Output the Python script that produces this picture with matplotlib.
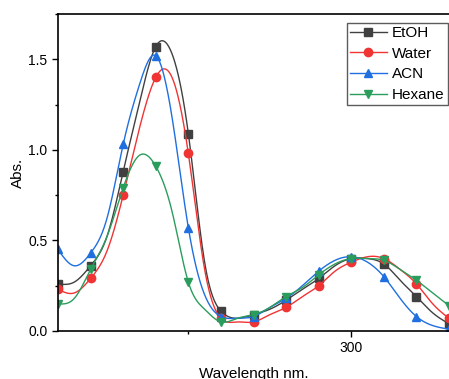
import numpy as np
import matplotlib
matplotlib.use('Agg')
import matplotlib.pyplot as plt
from matplotlib.ticker import MultipleLocator, FormatStrFormatter

plt.rcParams['font.family'] = ['Liberation Sans', 'DejaVu Sans']

# every 5 nm, symbols shown every 10 nm
wavelength = [210, 215, 220, 225, 230, 235, 240, 245, 250, 255, 260, 265, 270,
              275, 280, 285, 290, 295, 300, 305, 310, 315, 320, 325, 330]
etoh = [0.26, 0.27, 0.36, 0.52, 0.88, 1.26, 1.57, 1.53, 1.09, 0.38, 0.11, 0.07, 0.09,
        0.12, 0.17, 0.23, 0.29, 0.36, 0.40, 0.40, 0.37, 0.28, 0.19, 0.10, 0.04]
water = [0.23, 0.21, 0.29, 0.44, 0.75, 1.12, 1.40, 1.40, 0.98, 0.34, 0.07, 0.05, 0.05,
         0.09, 0.13, 0.19, 0.25, 0.33, 0.38, 0.41, 0.40, 0.34, 0.26, 0.15, 0.07]
acn = [0.45, 0.36, 0.43, 0.62, 1.03, 1.36, 1.52, 1.18, 0.57, 0.20, 0.08, 0.07, 0.08,
       0.13, 0.18, 0.25, 0.33, 0.39, 0.41, 0.38, 0.30, 0.18, 0.08, 0.03, 0.01]
hexane = [0.15, 0.18, 0.34, 0.52, 0.79, 0.97, 0.91, 0.66, 0.27, 0.12, 0.05, 0.07, 0.09,
          0.13, 0.19, 0.24, 0.31, 0.37, 0.40, 0.40, 0.39, 0.34, 0.28, 0.21, 0.14]

labels = ['EtOH', 'Water', 'ACN', 'Hexane']
colors = ['#404040', '#f03434', '#1f6fe0', '#2a9d5c']
markers = ['s', 'o', '^', 'v']


def spline(x, y, xs):
    # natural cubic spline, only used to draw the smooth line
    x = np.asarray(x, float)
    y = np.asarray(y, float)
    n = len(x)
    h = np.diff(x)
    A = np.zeros((n, n))
    b = np.zeros(n)
    A[0, 0] = A[-1, -1] = 1
    for i in range(1, n - 1):
        A[i, i - 1] = h[i - 1]
        A[i, i] = 2 * (h[i - 1] + h[i])
        A[i, i + 1] = h[i]
        b[i] = 6 * ((y[i + 1] - y[i]) / h[i] - (y[i] - y[i - 1]) / h[i - 1])
    M = np.linalg.solve(A, b)
    idx = np.clip(np.searchsorted(x, xs) - 1, 0, n - 2)
    x0, x1 = x[idx], x[idx + 1]
    hh = x1 - x0
    t0 = x1 - xs
    t1 = xs - x0
    return (M[idx] * t0**3 / (6 * hh) + M[idx + 1] * t1**3 / (6 * hh)
            + (y[idx] / hh - M[idx] * hh / 6) * t0
            + (y[idx + 1] / hh - M[idx + 1] * hh / 6) * t1)


fig = plt.figure(figsize=(4.49, 3.79), dpi=100)
ax = fig.add_axes([58 / 449, 48 / 379, 391 / 449, 317 / 379])

xs = np.linspace(wavelength[0], wavelength[-1], 800)
for ys, lab, c, m in zip([etoh, water, acn, hexane], labels, colors, markers):
    ax.plot(xs, spline(wavelength, ys, xs), color=c, lw=1.0)
    ax.plot(wavelength[::2], ys[::2], ls='none', marker=m, color=c, ms=6)
    ax.plot([], [], color=c, marker=m, ms=6, lw=1.0, label=lab)

ax.set_xlim(210, 330)
ax.set_ylim(0, 1.75)
ax.xaxis.set_major_locator(MultipleLocator(100))
ax.xaxis.set_minor_locator(MultipleLocator(50))
ax.yaxis.set_major_locator(MultipleLocator(0.5))
ax.yaxis.set_minor_locator(MultipleLocator(0.25))
ax.yaxis.set_major_formatter(FormatStrFormatter('%.1f'))
ax.tick_params(which='major', direction='out', length=4, width=1, labelsize=10)
ax.tick_params(which='minor', direction='out', length=2.5, width=1)
ax.spines['right'].set_visible(False)
for s in ['left', 'top', 'bottom']:
    ax.spines[s].set_linewidth(1.2)

ax.set_ylabel('Abs.', fontsize=11, labelpad=2.5)
ax.set_xlabel('Wavelength nm.', fontsize=11, labelpad=8)

leg = ax.legend(loc='upper right', bbox_to_anchor=(0.997, 0.972), fontsize=11,
                frameon=True, fancybox=False, edgecolor='#333333',
                handlelength=2.4, handletextpad=0.35, borderpad=0.2,
                labelspacing=0.44, borderaxespad=0)
leg.get_frame().set_linewidth(1.0)

fig.savefig('out.png', dpi=100)
